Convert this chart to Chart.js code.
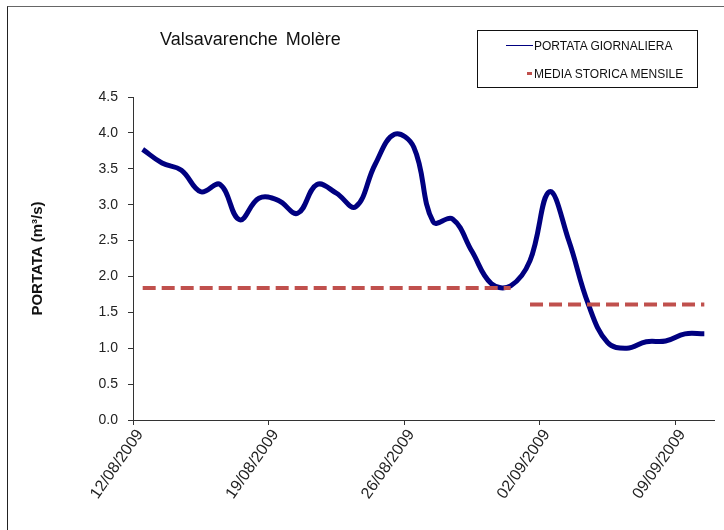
<!DOCTYPE html>
<html>
<head>
<meta charset="utf-8">
<script src="https://cdn.jsdelivr.net/npm/chart.js@4"></script>
<style>
  body { margin: 0; background: #fff; }
  #wrap { position: relative; width: 724px; height: 530px; overflow: hidden; font-family: "Liberation Sans", Arial, sans-serif; }
  #grafico { position: absolute; left: 0; top: 0; }
  .cornice { position: absolute; left: 7px; top: 6px; width: 740px; height: 540px; border-left: 1px solid #222; border-top: 1px solid #666; }
  .titolo { position: absolute; left: 160px; top: 29px; font-size: 18px; word-spacing: 3px; color: #111; white-space: nowrap; }
  .legenda { position: absolute; left: 477px; top: 30px; width: 219px; height: 56px; border: 1px solid #111; background: #fff; font-size: 12px; color: #111; }
  .voce { position: absolute; left: 56px; white-space: nowrap; line-height: 14px; }
  .segno { position: absolute; }
</style>
</head>
<body>
<div id="wrap">
  <canvas id="grafico" width="724" height="530"></canvas>
  <div class="cornice"></div>
  <div class="titolo">Valsavarenche Molère</div>
  <div class="legenda">
    <div class="segno" style="left:28px;top:14px;width:27px;height:1px;background:#000080"></div>
    <div class="voce" style="top:8px">PORTATA GIORNALIERA</div>
    <div class="segno" style="left:49px;top:41px;width:5px;height:3px;background:#C0504D"></div>
    <div class="voce" style="top:36px">MEDIA STORICA MENSILE</div>
  </div>
</div>
<script>
document.addEventListener("DOMContentLoaded", function () {

    // Date giornaliere (categorie)
    const date = [
        "12/08/2009", "13/08/2009", "14/08/2009", "15/08/2009", "16/08/2009",
        "17/08/2009", "18/08/2009", "19/08/2009", "20/08/2009", "21/08/2009",
        "22/08/2009", "23/08/2009", "24/08/2009", "25/08/2009", "26/08/2009",
        "27/08/2009", "28/08/2009", "29/08/2009", "30/08/2009", "31/08/2009",
        "01/09/2009", "02/09/2009", "03/09/2009", "04/09/2009", "05/09/2009",
        "06/09/2009", "07/09/2009", "08/09/2009", "09/09/2009", "10/09/2009"
    ];

    // Portata giornaliera (m3/s)
    const portata = [
        3.77, 3.58, 3.48, 3.18, 3.28, 2.79, 3.09, 3.06, 2.88, 3.28,
        3.16, 2.97, 3.56, 3.98, 3.80, 2.76, 2.80, 2.35, 1.90, 1.87,
        2.22, 3.18, 2.50, 1.62, 1.08, 1.00, 1.09, 1.10, 1.20, 1.20
    ];

    // Media storica mensile
    const mesi = ["08", "09"];
    const mediaMensile = [1.84, 1.61];

    // Etichette asse x
    const dateEtichette = ["12/08/2009", "19/08/2009", "26/08/2009", "02/09/2009", "09/09/2009"];

    const serieMedia = mesi.map(function (mese, m) {
        const punti = [];
        date.forEach(function (d, i) {
            if (d.substring(3, 5) === mese) punti.push({ x: i + 0.5, y: mediaMensile[m] });
        });
        return {
            label: "MEDIA STORICA MENSILE",
            data: punti,
            borderColor: "#C0504D",
            borderWidth: 4,
            borderDash: [13, 6],
            pointRadius: 0,
            fill: false,
            order: 0
        };
    });

    const ctx = document.getElementById("grafico").getContext("2d");
    new Chart(ctx, {
        type: "line",
        data: {
            datasets: [{
                label: "PORTATA GIORNALIERA",
                data: portata.map(function (v, i) { return { x: i + 0.5, y: v }; }),
                borderColor: "#000080",
                borderWidth: 5,
                tension: 0.4,
                pointRadius: 0,
                fill: false,
                order: 1
            }].concat(serieMedia)
        },
        options: {
            responsive: false,
            animation: false,
            devicePixelRatio: 1,
            layout: { padding: { top: 97, right: 10, bottom: 0, left: 0 } },
            plugins: { legend: { display: false }, tooltip: { enabled: false } },
            scales: {
                x: {
                    type: "linear",
                    min: 0,
                    max: date.length,
                    afterBuildTicks: function (scale) {
                        scale.ticks = dateEtichette.map(function (d) { return { value: date.indexOf(d) }; });
                    },
                    afterFit: function (scale) { scale.height = 110; },
                    grid: { drawOnChartArea: false, tickLength: 5, color: "#333" },
                    border: { color: "#333", width: 1 },
                    ticks: {
                        autoSkip: false,
                        minRotation: 55,
                        maxRotation: 55,
                        padding: 1,
                        labelOffset: 7,
                        color: "#222",
                        font: { family: "'Liberation Sans', Arial", size: 16 },
                        callback: function (v) { return date[v]; }
                    }
                },
                y: {
                    min: 0,
                    max: 4.5,
                    afterFit: function (scale) { scale.width = 133; },
                    grid: { drawOnChartArea: false, tickLength: 5, color: "#333" },
                    border: { color: "#333", width: 1 },
                    ticks: {
                        stepSize: 0.5,
                        padding: 10,
                        color: "#222",
                        font: { family: "'Liberation Sans', Arial", size: 14 },
                        callback: function (v) { return v.toFixed(1); }
                    },
                    title: {
                        display: true,
                        text: "PORTATA (m³/s)",
                        color: "#111",
                        padding: { top: 29, bottom: 0 },
                        font: { family: "'Liberation Sans', Arial", size: 15, weight: "bold" }
                    }
                }
            }
        }
    });
});
</script>
</body>
</html>
